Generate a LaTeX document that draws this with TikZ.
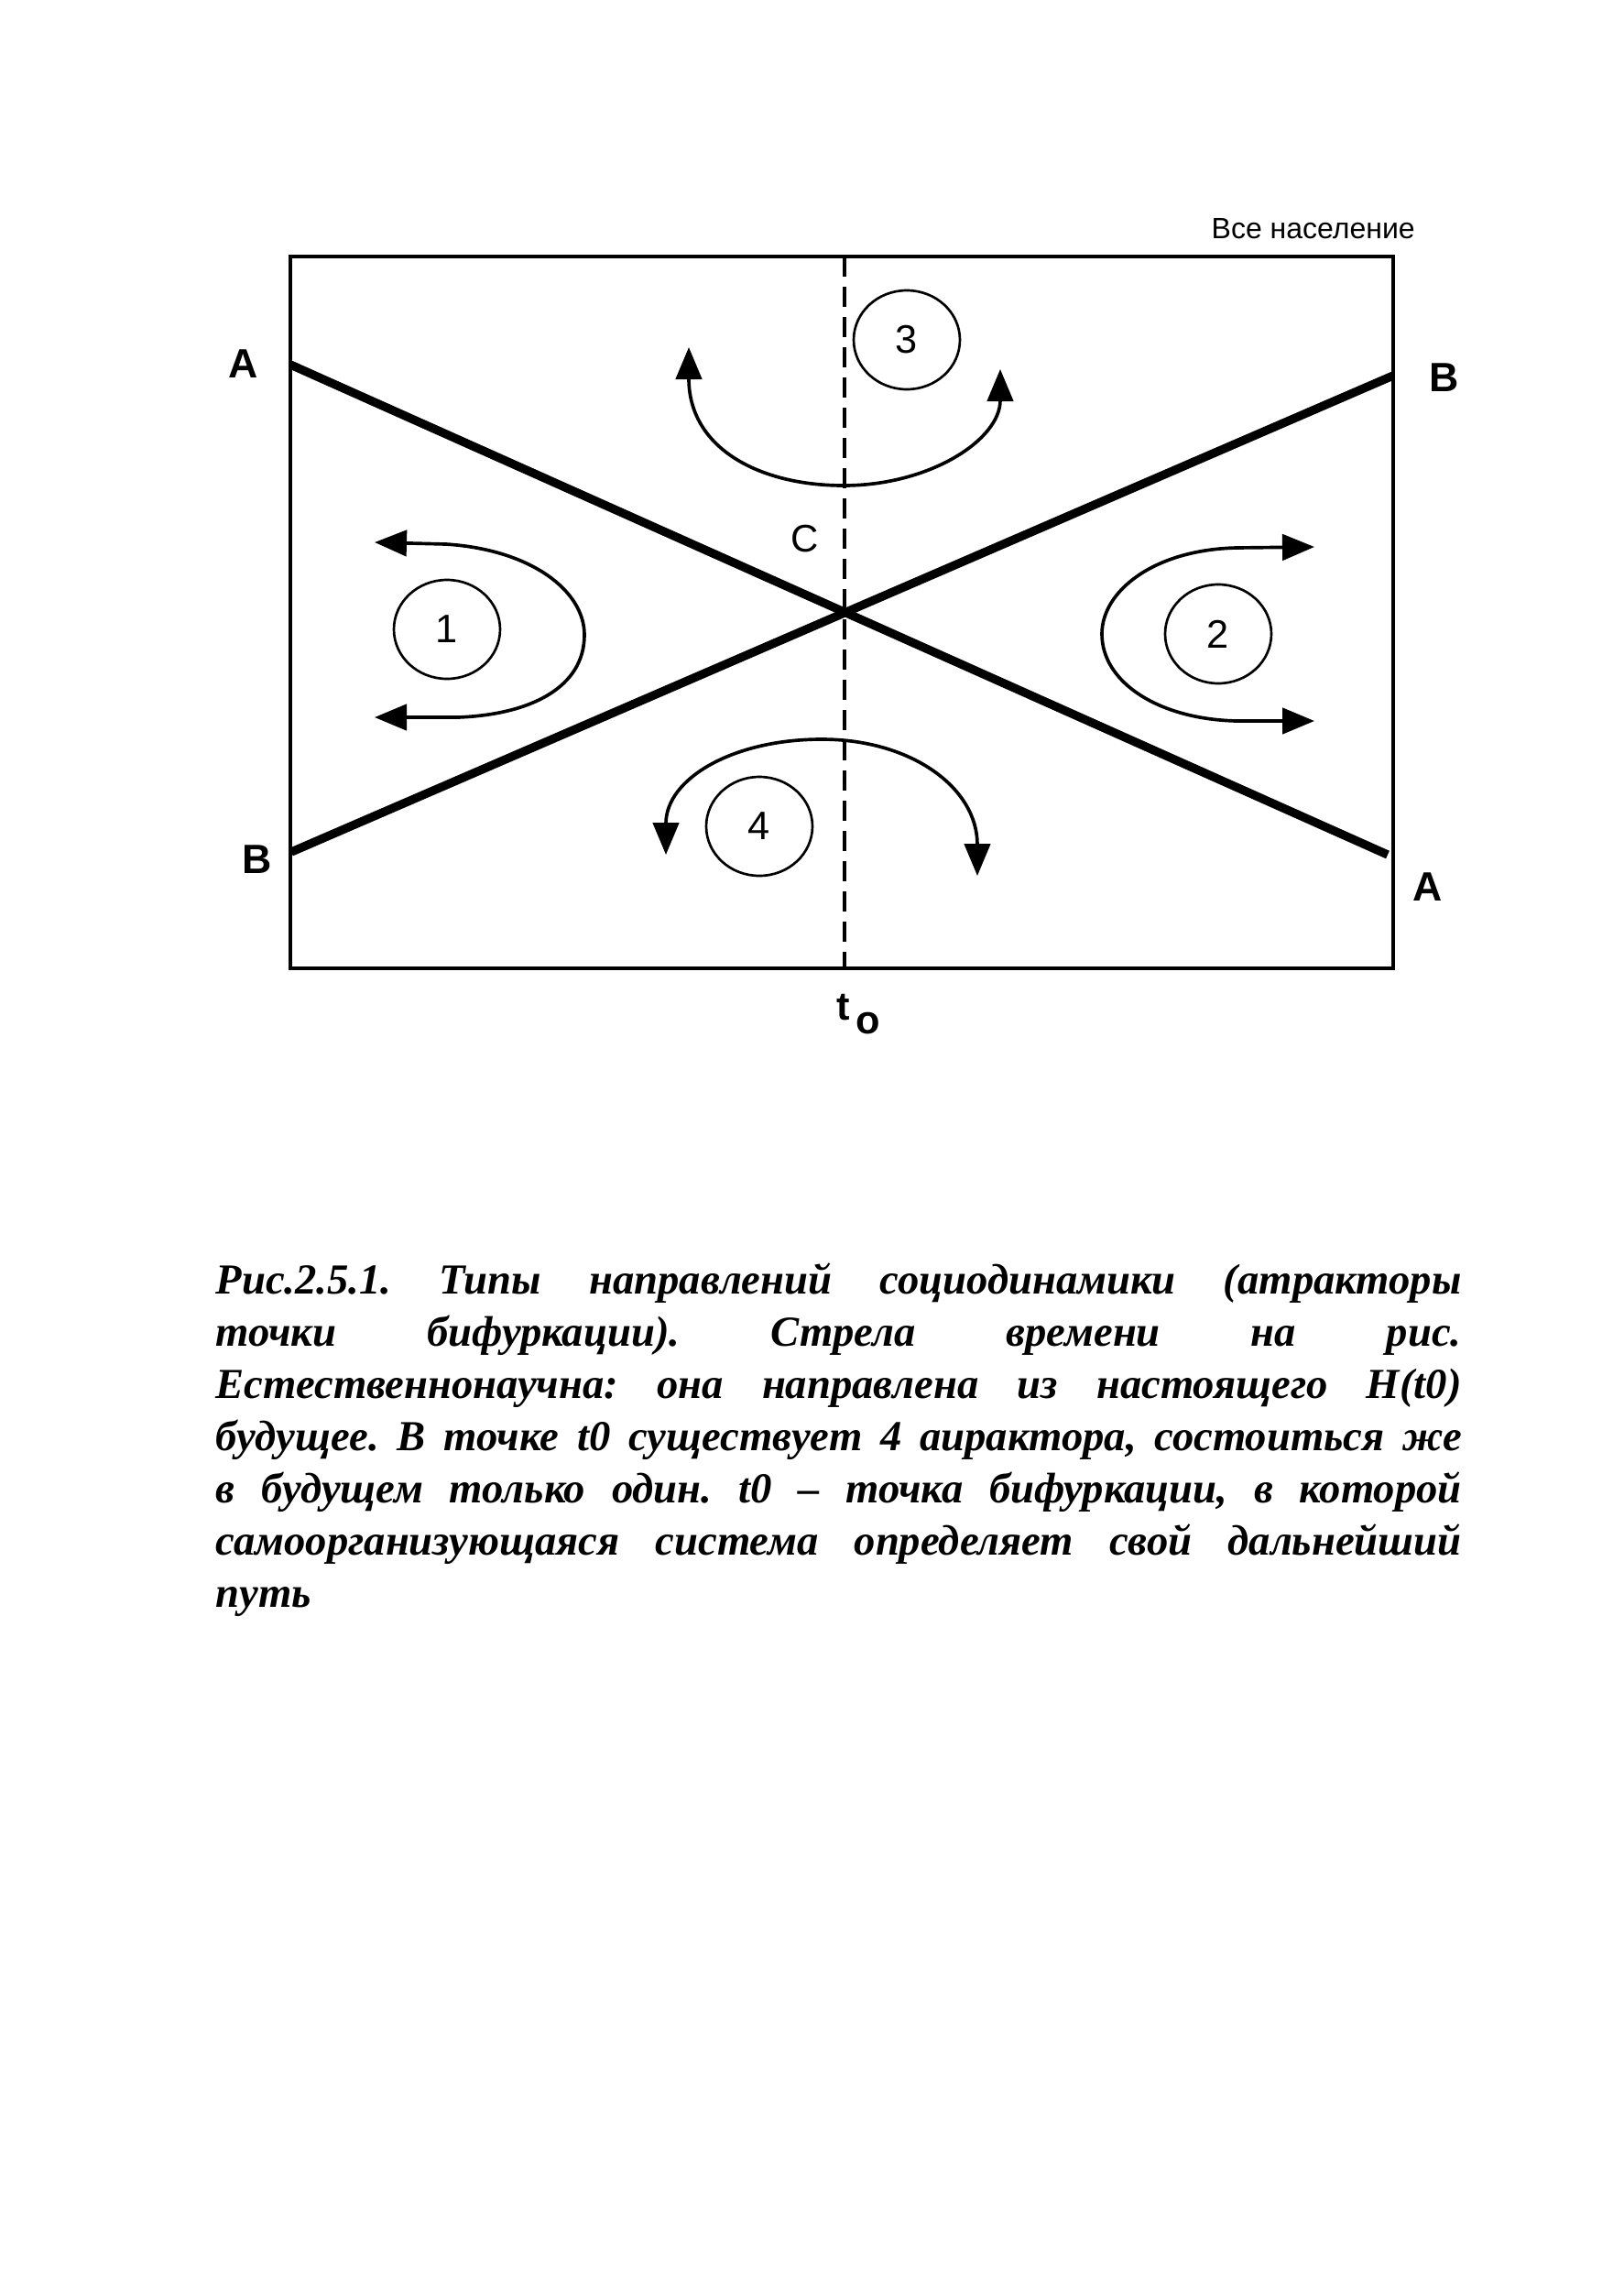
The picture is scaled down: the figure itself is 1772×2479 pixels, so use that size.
\documentclass[tikz,border=0pt]{standalone}
\usepackage{fontspec}
\setmainfont{Liberation Serif}
\setsansfont{Liberation Sans}
\usetikzlibrary{arrows.meta,shapes.geometric}
\frenchspacing
\begin{document}
\begin{tikzpicture}[x=0.3pt,y=-0.3pt,
  frame/.style={line width=1.1pt},
  xline/.style={line width=2.8pt},
  tline/.style={line width=1.2pt, dash pattern=on 6.6pt off 3.3pt},
  attr/.style={draw, ellipse, line width=0.8pt, minimum width=34.8pt, minimum height=32.4pt, inner sep=0pt, font=\sffamily\fontsize{13pt}{13pt}\selectfont},
  flow/.style={line width=1.1pt, {Triangle[length=10.5pt,width=8.5pt]}-{Triangle[length=10.5pt,width=8.5pt]}},
  endlbl/.style={font=\sffamily\bfseries\fontsize{13.4pt}{14pt}\selectfont, inner sep=0pt, anchor=base},
]
\fill[white] (0,0) rectangle (1772,2479);
\useasboundingbox (0,0) rectangle (1772,2479);
% frame
\coordinate (TL) at (317,280);
\coordinate (BR) at (1521,1057);
\draw[frame] (TL) rectangle (BR);
% time line t0
\coordinate (T0top) at (922,280);
\coordinate (T0bot) at (922,1057);
\draw[tline] (T0top) -- (T0bot);
% the two lines A-A and B-B
\coordinate (A1) at (317,398);
\coordinate (A2) at (1515,933);
\coordinate (B1) at (318,930);
\coordinate (B2) at (1521,410);
\draw[xline] (A1) -- (A2);
\draw[xline] (B1) -- (B2);
% end labels
\node[endlbl] (lA1) at (266,412) {A};
\node[endlbl] (lB2) at (1577,427) {B};
\node[endlbl] (lB1) at (281,953) {B};
\node[endlbl] (lA2) at (1559,983) {A};
\node[anchor=base west, inner sep=0pt, font=\sffamily\fontsize{9.6pt}{10pt}\selectfont] (all) at (1322,260) {Все население};
\node[anchor=base, inner sep=0pt, font=\sffamily\fontsize{12.6pt}{13pt}\selectfont] (C) at (879,602) {C};
\node[anchor=base west, inner sep=0pt, font=\sffamily\bfseries\fontsize{13pt}{14pt}\selectfont] (t0) at (913,1113) {t\kern1.8pt\raisebox{-4.5pt}{o}};
% attractors
\node[attr] (n1) at (488,687) {1};
\node[attr] (n2) at (1330,692) {2};
\node[attr] (n3) at (990,371) {3};
\node[attr] (n4) at (829,902) {4};
% flows
\coordinate (f1a) at (409,592);
\coordinate (f1b) at (409,783);
\draw[flow] (f1a) -- (487,594) .. controls (580,600) and (638,645) .. (638,693) .. controls (638,750) and (580,780) .. (500,783) -- (f1b);
\coordinate (f2a) at (1435,597);
\coordinate (f2b) at (1435,787);
\draw[flow] (f2a) -- (1350,598) .. controls (1260,600) and (1203,645) .. (1203,692) .. controls (1203,745) and (1265,785) .. (1350,787) -- (f2b);
\coordinate (f3a) at (752,379);
\coordinate (f3b) at (1092,403);
\draw[flow] (f3a) .. controls (752,490) and (830,530) .. (921,530) .. controls (1015,530) and (1092,480) .. (f3b);
\coordinate (f4a) at (727,933);
\coordinate (f4b) at (1067,956);
\draw[flow] (f4a) .. controls (727,850) and (800,807) .. (897,807) .. controls (995,807) and (1067,860) .. (f4b);
% caption
\node[anchor=base west, inner sep=0pt, font=\bfseries\itshape\fontsize{14pt}{17.1pt}\selectfont] (cap) at (235,1412) {\parbox[t]{408pt}{%
\makebox[408pt][s]{Рис.2.5.1. Типы направлений социодинамики (атракторы}\\
\makebox[408pt][s]{точки бифуркации). Стрела времени на рис.}\\
\makebox[408pt][s]{Естественнонаучна: она направлена из настоящего H(t0)}\\
\makebox[408pt][s]{будущее. В точке t0 существует 4 аиpактора, состоиться же}\\
\makebox[408pt][s]{в будущем только один. t0 – точка бифуркации, в которой}\\
\makebox[408pt][s]{самоорганизующаяся система определяет свой дальнейший}\\
путь}};
\end{tikzpicture}
\end{document}
